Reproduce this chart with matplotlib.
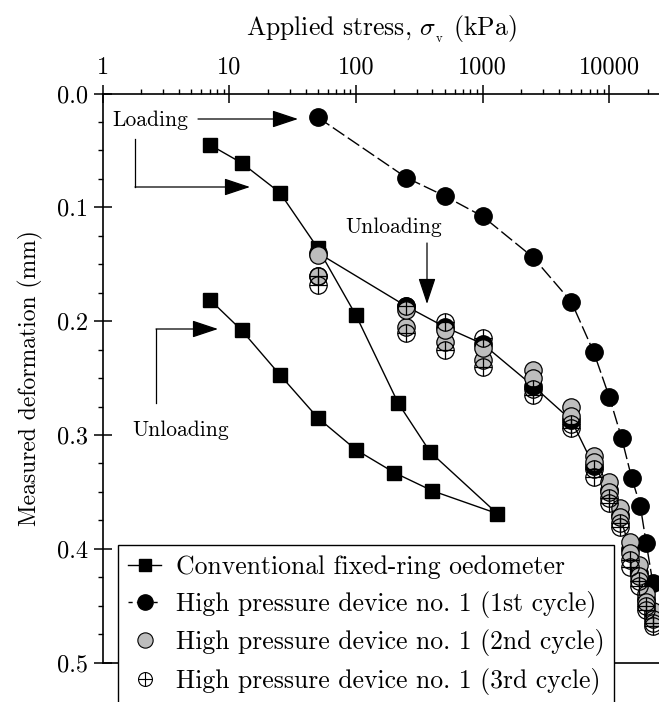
import matplotlib
matplotlib.use('Agg')
import matplotlib.pyplot as plt
from matplotlib.ticker import LogLocator, FixedLocator, MultipleLocator, NullFormatter
from matplotlib.lines import Line2D
from matplotlib.legend_handler import HandlerTuple

plt.rcParams['font.family'] = ['cmr10', 'DejaVu Serif']
plt.rcParams['mathtext.fontset'] = 'cm'
plt.rcParams['axes.unicode_minus'] = False
plt.rcParams['axes.formatter.use_mathtext'] = True

# conventional fixed-ring oedometer: loading then unloading
conv_stress = [7, 12.5, 25, 50, 100, 215, 385, 1300, 400, 200, 100, 50, 25, 12.5, 7]
conv_def = [0.045, 0.061, 0.087, 0.136, 0.195, 0.272, 0.315, 0.369,
            0.349, 0.333, 0.313, 0.285, 0.247, 0.208, 0.181]

# high pressure device, 1st cycle loading
c1_stress = [50, 250, 500, 1000, 2500, 5000, 7500, 10000, 12500, 15000, 17500, 19500, 22000]
c1_def = [0.021, 0.074, 0.090, 0.108, 0.144, 0.183, 0.227, 0.267, 0.303, 0.338, 0.362, 0.395, 0.430]

# unloading / reloading levels (cycles 1-3 overlap here)
levels = [50, 250, 500, 1000, 2500, 5000, 7500, 10000, 12000, 14500, 17000, 19500, 22000]
c1_unload = [0.140, 0.187, 0.205, 0.220, 0.257, 0.287, 0.327, 0.348, 0.370, 0.400, 0.421, 0.444, 0.458]
c2_load = [0.142, 0.205, 0.218, 0.234, 0.243, 0.275, 0.318, 0.341, 0.364, 0.394, 0.414, 0.440, 0.455]
c2_unload = [0.160, 0.190, 0.208, 0.224, 0.250, 0.283, 0.324, 0.350, 0.372, 0.404, 0.424, 0.447, 0.462]
c3_load = [0.168, 0.210, 0.225, 0.240, 0.265, 0.294, 0.337, 0.360, 0.381, 0.416, 0.433, 0.454, 0.468]
c3_unload = [0.160, 0.187, 0.201, 0.215, 0.260, 0.290, 0.330, 0.355, 0.377, 0.410, 0.428, 0.450, 0.465]

labels = ['Conventional fixed-ring oedometer',
          'High pressure device no. 1 (1st cycle)',
          'High pressure device no. 1 (2nd cycle)',
          'High pressure device no. 1 (3rd cycle)']

fig = plt.figure(figsize=(6.59, 7.02), dpi=100)
ax = fig.add_axes([0.1558, 0.0560, 0.8442, 0.8108])

ms_c = 12.5
ax.plot(conv_stress, conv_def, color='black', lw=1.0, marker='s', ms=10.5,
        mfc='black', mec='black', zorder=3)
ax.plot(c1_stress, c1_def, color='black', lw=1.0, ls=(0, (10, 3)), marker='o', ms=ms_c,
        mfc='black', mec='black', zorder=3)
ax.plot(levels, c1_unload, color='black', lw=1.0, marker='o', ms=ms_c,
        mfc='black', mec='black', zorder=3)
for ys in (c2_load, c2_unload):
    ax.plot(levels, ys, ls='none', marker='o', ms=ms_c, mfc='#bdbdbd', mec='black',
            mew=0.9, zorder=4)
# crossed circles: open circle + plus
for ys in (c3_load, c3_unload):
    ax.plot(levels, ys, ls='none', marker='o', ms=ms_c, mfc='none', mec='black', mew=0.9, zorder=5)
    ax.plot(levels, ys, ls='none', marker='+', ms=ms_c, mec='black', mew=0.9, zorder=5)

ax.set_xscale('log')
ax.set_xlim(1, 24600)
ax.set_ylim(0.5, 0.0)

ax.xaxis.tick_top()
ax.xaxis.set_label_position('top')
ax.xaxis.set_major_locator(FixedLocator([1, 10, 100, 1000, 10000]))
ax.set_xticklabels(['1', '10', '100', '1000', '10000'])
ax.xaxis.set_minor_locator(LogLocator(base=10, subs=range(2, 10)))
ax.xaxis.set_minor_formatter(NullFormatter())
ax.yaxis.set_major_locator(MultipleLocator(0.1))
ax.yaxis.set_minor_locator(MultipleLocator(0.025))
ax.set_yticklabels(['%.1f' % v for v in ax.get_yticks()])

ax.tick_params(which='major', direction='inout', length=13, width=1.1, labelsize=17.5, pad=4)
ax.tick_params(which='minor', direction='out', length=3.5, width=1.0)
ax.tick_params(axis='x', which='both', top=True, bottom=False)
ax.tick_params(axis='y', which='both', left=True, right=False)
for s in ['top', 'left', 'bottom']:
    ax.spines[s].set_linewidth(1.2)
ax.spines['right'].set_visible(False)

ax.set_xlabel(r'Applied stress, $\sigma_{_{\rm v}}$ (kPa)', fontsize=18.5, labelpad=15)
ax.set_ylabel('Measured deformation (mm)', fontsize=17, labelpad=10)

# annotations (figure pixel positions converted to figure fraction)
W, H = 659.0, 702.0
def fp(x, y):
    return (x / W, 1 - y / H)

arrow = dict(arrowstyle='-|>,head_length=0.9,head_width=0.3', color='black', lw=0.9,
             mutation_scale=18, shrinkA=0, shrinkB=0)
kw = dict(xycoords='figure fraction', textcoords='figure fraction')
ax.text(*fp(112, 120), 'Loading', transform=fig.transFigure, fontsize=15.5, va='center', ha='left')
ax.annotate('', xy=fp(298, 119), xytext=fp(198, 119), arrowprops=arrow, **kw)
ax.plot(*zip(fp(135, 139), fp(135, 187)), transform=fig.transFigure, color='black', lw=0.9)
ax.annotate('', xy=fp(250, 187), xytext=fp(135, 187), arrowprops=arrow, **kw)

ax.text(*fp(394, 227), 'Unloading', transform=fig.transFigure, fontsize=15.5, va='center', ha='center')
ax.annotate('', xy=fp(427, 304), xytext=fp(427, 243), arrowprops=arrow, **kw)

ax.text(*fp(181, 430), 'Unloading', transform=fig.transFigure, fontsize=15.5, va='center', ha='center')
ax.plot(*zip(fp(156, 403), fp(156, 329)), transform=fig.transFigure, color='black', lw=0.9)
ax.annotate('', xy=fp(218, 329), xytext=fp(156, 329), arrowprops=arrow, **kw)

# legend: 3rd cycle handle is a crossed circle
h3 = (Line2D([], [], ls='none', marker='o', ms=10, mfc='none', mec='black', mew=0.8),
      Line2D([], [], ls='none', marker='+', ms=10, mec='black', mew=0.8))
h_legend = [
    Line2D([], [], color='black', lw=1.0, marker='s', ms=9, mfc='black', mec='black'),
    Line2D([], [], color='black', lw=1.0, ls=(0, (3, 3)), marker='o', ms=11, mfc='black', mec='black'),
    Line2D([], [], ls='none', marker='o', ms=11, mfc='#bdbdbd', mec='black', mew=0.8),
    h3,
]
leg = fig.legend(h_legend, labels,
                 handler_map={tuple: HandlerTuple(ndivide=1)},
                 loc='upper left', bbox_to_anchor=fp(117.7, 545), borderaxespad=0,
                 fontsize=18.5, frameon=True, fancybox=False, edgecolor='black',
                 framealpha=1, handlelength=1.3, handletextpad=0.55, labelspacing=0.45,
                 borderpad=0.4)
leg.get_frame().set_linewidth(1.0)
leg.set_zorder(10)

fig.savefig('out.png', dpi=100)
